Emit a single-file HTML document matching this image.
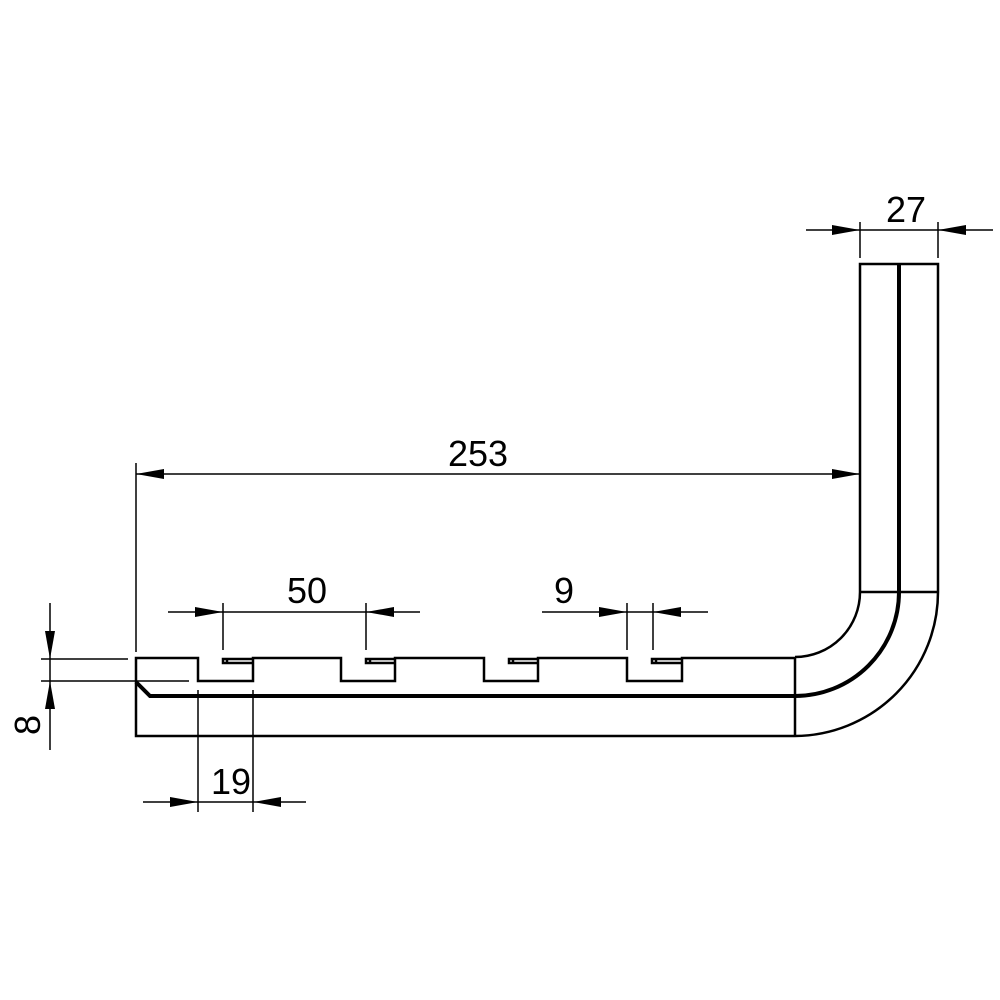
<!DOCTYPE html>
<html><head><style>body{margin:0;background:#fff}svg{display:block}text{font-family:"Liberation Sans",sans-serif;font-size:36px;fill:#000}</style></head>
<body>
<svg width="1000" height="1000" viewBox="0 0 1000 1000" xmlns="http://www.w3.org/2000/svg">
<defs>
<marker id="a" viewBox="0 0 28 10" refX="28" refY="5" markerWidth="28" markerHeight="10" markerUnits="userSpaceOnUse" orient="auto"><path d="M0,0 L28,5 L0,10 Z" fill="#000"/></marker>
</defs>
<g fill="none" stroke="#000" stroke-width="2.5">
<!-- vertical leg -->
<path d="M860,592 V264 H938 V592"/>
<line x1="860" y1="592" x2="938" y2="592"/>
<line x1="899" y1="264" x2="899" y2="592" stroke-width="4"/>
<!-- bend -->
<path d="M860,592 A65,65 0 0 1 795,657"/>
<path d="M899,592 A104,104 0 0 1 795,696" stroke-width="4"/>
<path d="M938,592 A144,144 0 0 1 795,736"/>
<!-- horizontal -->
<path d="M795,736 H136 V658 H198 V681 H253 V658 H341 V681 H395 V658 H484 V681 H538 V658 H627 V681 H682 V658 H795 V736"/>
<path d="M136,682 L150,696 H795" stroke-width="4"/>
<!-- slots -->
<path d="M253,659 H223 V663 H253"/><path d="M227,659 V663"/>
<path d="M395,659 H366 V663 H395"/><path d="M370,659 V663"/>
<path d="M538,659 H509 V663 H538"/><path d="M513,659 V663"/>
<path d="M682,659 H652 V663 H682"/><path d="M656,659 V663"/>
</g>
<g fill="none" stroke="#000" stroke-width="1.5">
<!-- 27 -->
<line x1="860" y1="222" x2="860" y2="258"/><line x1="938" y1="222" x2="938" y2="258"/>
<line x1="806" y1="230" x2="860" y2="230" marker-end="url(#a)"/>
<line x1="993" y1="230" x2="938" y2="230" marker-end="url(#a)"/>
<line x1="860" y1="230" x2="938" y2="230"/>
<!-- 253 -->
<line x1="136" y1="463" x2="136" y2="652"/>
<line x1="498" y1="474" x2="136" y2="474" marker-end="url(#a)"/>
<line x1="498" y1="474" x2="860" y2="474" marker-end="url(#a)"/>
<!-- 50 -->
<line x1="223" y1="603" x2="223" y2="650"/><line x1="366" y1="603" x2="366" y2="650"/>
<line x1="168" y1="612" x2="223" y2="612" marker-end="url(#a)"/>
<line x1="420" y1="612" x2="366" y2="612" marker-end="url(#a)"/>
<line x1="223" y1="612" x2="366" y2="612"/>
<!-- 9 -->
<line x1="627" y1="603" x2="627" y2="650"/><line x1="653" y1="603" x2="653" y2="650"/>
<line x1="542" y1="612" x2="627" y2="612" marker-end="url(#a)"/>
<line x1="708" y1="612" x2="653" y2="612" marker-end="url(#a)"/>
<line x1="627" y1="612" x2="653" y2="612"/>
<!-- 8 -->
<line x1="41" y1="659" x2="128" y2="659"/><line x1="41" y1="681" x2="189" y2="681"/>
<line x1="50" y1="603" x2="50" y2="659" marker-end="url(#a)"/>
<line x1="50" y1="750" x2="50" y2="681" marker-end="url(#a)"/>
<line x1="50" y1="659" x2="50" y2="681"/>
<!-- 19 -->
<line x1="198" y1="690" x2="198" y2="812"/><line x1="253" y1="690" x2="253" y2="812"/>
<line x1="143" y1="802" x2="198" y2="802" marker-end="url(#a)"/>
<line x1="306" y1="802" x2="253" y2="802" marker-end="url(#a)"/>
<line x1="198" y1="802" x2="253" y2="802"/>
</g>
<text x="906" y="222" text-anchor="middle">27</text>
<text x="478" y="466" text-anchor="middle">253</text>
<text x="307" y="603" text-anchor="middle">50</text>
<text x="564" y="603" text-anchor="middle">9</text>
<text x="231" y="794" text-anchor="middle">19</text>
<text transform="translate(40,725) rotate(-90)" text-anchor="middle">8</text>
</svg>
</body></html>
